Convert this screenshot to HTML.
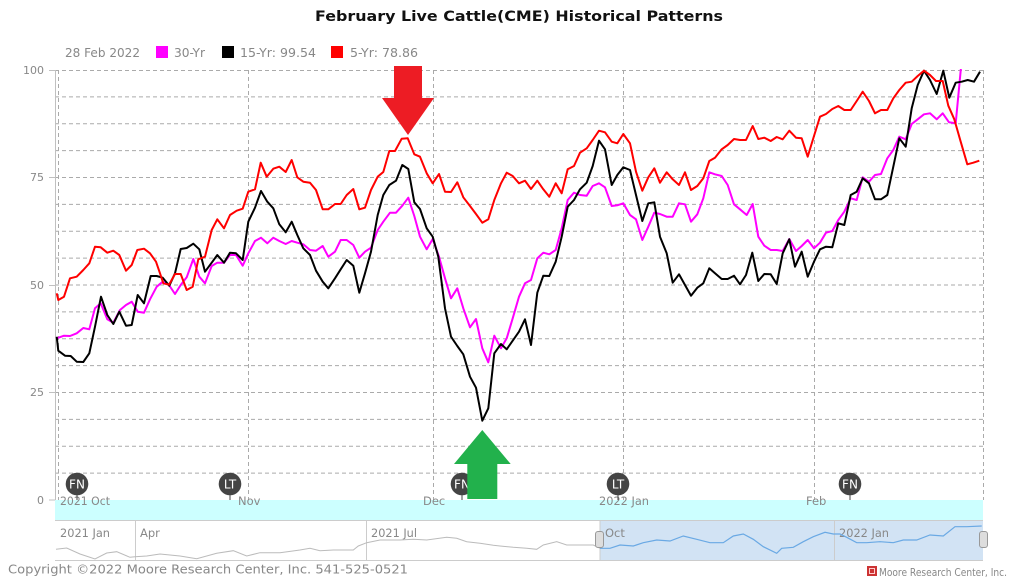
<!DOCTYPE html>
<html><head><meta charset="utf-8"><style>
html,body{margin:0;padding:0;background:#fff;}
svg{display:block;font-family:"DejaVu Sans","Liberation Sans",sans-serif;}
</style></head><body>
<svg width="1009" height="577" viewBox="0 0 1009 577" xmlns="http://www.w3.org/2000/svg">
<defs><clipPath id="pc"><rect x="55" y="69" width="935" height="431"/></clipPath></defs>
<rect width="1009" height="577" fill="#fff"/>
<text x="315" y="21" font-size="14" font-weight="bold" fill="#111" textLength="408" lengthAdjust="spacingAndGlyphs">February Live Cattle(CME) Historical Patterns</text>
<g font-size="12.5" fill="#888">
<text x="65" y="57" textLength="75" lengthAdjust="spacingAndGlyphs">28 Feb 2022</text>
<rect x="156" y="46" width="12" height="12" fill="#ff00ff"/>
<text x="174" y="57" textLength="31" lengthAdjust="spacingAndGlyphs">30-Yr</text>
<rect x="222" y="46" width="12" height="12" fill="#000"/>
<text x="240" y="57" textLength="76" lengthAdjust="spacingAndGlyphs">15-Yr: 99.54</text>
<rect x="331" y="46" width="12" height="12" fill="#ff0000"/>
<text x="350" y="57" textLength="68" lengthAdjust="spacingAndGlyphs">5-Yr: 78.86</text>
</g>
<g stroke="#aaa" stroke-width="1" stroke-dasharray="4,3" fill="none">
<path d="M55 70.5H983M55 96.9H983M55 123.8H983M55 150.6H983M55 177.5H983M55 204.4H983M55 231.3H983M55 258.1H983M55 285H983M55 311.9H983M55 338.8H983M55 365.6H983M55 392.5H983M55 419.4H983M55 446.3H983M55 473.1H983"/>
<path d="M58.5 70V500M248.5 70V500M433.5 70V500M623.5 70V500M814.5 70V500M983.5 70V500"/>
</g>
<path d="M55.5 70V500" stroke="#c0c0c0" stroke-width="1"/>
<path d="M49 70.5H55M49 177.5H55M49 285.5H55M49 392.5H55M49 500H55" stroke="#c0c0c0"/>
<g font-size="11" fill="#888" text-anchor="end">
<text x="44" y="74">100</text><text x="44" y="181">75</text><text x="44" y="289">50</text><text x="44" y="396">25</text><text x="44" y="504">0</text>
</g>
<rect x="55" y="500" width="928" height="20" fill="#ccffff"/>
<g font-size="11.5" fill="#888">
<text x="60" y="505" textLength="50" lengthAdjust="spacingAndGlyphs">2021 Oct</text>
<text x="238" y="505">Nov</text>
<text x="423" y="505">Dec</text>
<text x="599" y="505" textLength="50" lengthAdjust="spacingAndGlyphs">2022 Jan</text>
<text x="806" y="505">Feb</text>
</g>
<g clip-path="url(#pc)" fill="none" stroke-width="2" stroke-linejoin="round">
<polyline stroke="#ff00ff" points="56.7,338.3 64,335.7 70,336 76.7,333.3 83.3,328 89.3,329.3 95,308.3 100.7,303.3 107.3,319.3 113.3,322.7 120,310 126,305 131.7,301.7 137.7,311.7 144,312.7 150,299.3 156.7,286.7 162.7,281.7 169,285 175,294 180.7,285 186.7,277.3 193.3,259 199.3,276.7 205,283.3 211.7,266 217.3,262.7 224,262.7 230,255 236,255 242.7,265.7 248.3,253.3 255,241 261,237.7 267.3,243.3 273.3,237.7 279.3,241 285.7,244 291.7,241 297.3,242.7 303.3,244.3 310,250 316,250.7 322.7,246 328.3,256.7 335,251.7 340.7,240 346.7,240 353.3,245 359.3,257.7 365,251.7 371,247.7 377.7,230 383.3,221.7 390,212.7 396,212.7 402.3,205.7 408.3,197.7 414.3,216 420,236.7 426.7,249.3 432.7,239 439,256.7 445,278.3 451,298.3 457.3,288.3 463.3,308.3 470,327.3 476,319 482.3,348.3 488.3,362.3 494.3,335.7 501,348.3 506.7,338.3 512.7,318.3 519,296.7 525,283.3 531,280 537.3,258.3 543.3,252.7 549.3,254.3 555.7,250 561.7,228.3 567.7,200 574,192.7 580,195 586.7,195.7 592.7,186 599,183.3 605,187.3 611.7,206 617.3,205.3 623.3,203.3 630,215 636,219.3 642.3,240 648.3,226.7 654.3,212.7 660,214 666.7,216.7 672.7,216.7 679,203.3 685,204.3 691,221.7 697.3,214.3 703.3,198.3 709.3,172.3 715,174.3 721.7,176 727.7,185 734,204.3 740,209.3 746.7,215 752.7,204 758.3,236.7 764.3,245.7 770.7,250 776.7,250 782.7,251 789.3,239 796,251 801.7,246 807.7,240 814,248.3 820,242.7 826,232.7 832.3,231 838.3,220 844.3,211.7 850.7,198.3 856.7,200 862.7,177.3 869,181.7 875,175 881,174 887.3,158.3 893.3,150 899.3,136.7 905.7,139.3 911.7,124 917.7,119.3 924,114.3 930,113.3 936.7,119.3 942.7,113.3 949,122.3 955.7,123.3 961.7,60"/>
<polyline stroke="#000" points="56.7,336.7 58.3,350.7 65,355.7 70.7,356 76.7,361.7 83.3,362 89.3,353.3 95,326.7 101,296.7 107.3,315 113.3,324 119.3,311.7 126,325.7 131.7,325 137.7,295 144,303.3 150.7,276 156.7,276 162.7,277.7 169.3,285.7 175,273.3 180.7,249 186.7,248 193.3,243.7 199.3,249.3 205,271.7 211.7,262.7 217.3,255 224,262.7 230,252.7 236,253.3 242.7,260 248.3,221.7 255,207.7 261,191 267.3,201.7 273.3,208.3 279.3,224.3 285.7,232.3 291.7,221.7 297.3,235 303.3,248.3 310,255 316,270.7 322.7,281.7 328.3,288.3 335,278.3 340.7,269.3 346.7,260 353.3,265.7 359.3,292.7 365,273.3 371,251.7 377.7,215 383.3,195 389.3,185 396,180.7 402.3,165 408.3,169 414.3,202.3 420,209 426.7,228.3 432.7,236.7 438.3,256.7 445,308.3 451,336.7 457.3,346 463.3,354.3 470,376.7 476,387.7 482.3,420.7 488.3,408.3 494.3,353.3 501,344 506.7,349.3 512.7,340.7 519,331.7 525,319.3 531,345 537.3,292.7 543.3,275.7 549.3,276 555.7,261.7 561.7,236.7 567.7,206.7 574,200 580,189.3 586.7,182.7 592.7,166 599,140.7 605,149.3 611.7,185 617.3,175 623.3,167.3 630,170 636,195 642.3,221 648.3,203.3 654.3,202.3 660,236.7 666.7,253.3 672.7,282.7 679,274.3 685,285 691,295.7 697.3,287.7 703.3,283.3 709.3,268.3 715,273.3 721.7,279 727.7,279 734,275.7 740,284.3 746,275 752.3,252.7 758.3,281 764.3,274 770.7,274.3 776.7,284 782.7,253.3 789.3,239.3 795,266.7 801.7,251.7 807.7,276.7 814,261.7 820,249.3 826,246.7 832.3,247.3 838.3,223.3 844.3,225 850.7,195 856.7,191.7 862.7,178.3 869,183.3 875,199.3 881,199.3 887.3,195 893.3,166.7 899.3,138.3 905.7,146.7 911.7,108.3 917.7,85 924,70.7 930,80 936.7,94 943.3,70.7 949.3,97.7 955.7,82.7 961.7,81.7 967.7,80 974,81.7 980,71.7"/>
<polyline stroke="#ff0000" points="56.7,293.3 58.3,300 64,296.7 70,278.3 76.7,276.7 83.3,270 89.3,263.3 95,246.7 100.7,247.3 107.3,252.7 113.3,250.7 119.3,255 126,270.7 131.7,265 137.3,250 144,248.7 150,253.3 156,261.7 160,273.3 163.3,283.3 169,284.7 175,274 180.7,274 186.7,290 192.7,286.7 198.3,259.3 205,256.7 211.7,230 217.3,219.3 224,228.3 230,215 236.7,210.7 242.7,208.7 248.3,191.7 255,189.3 260.7,162.7 266.7,176.7 273.3,168.7 279.3,166.7 285.7,172 291.7,160 297.3,177.3 303.3,181.7 310,182.7 316,190 322.7,209.3 328.3,209.3 335,204 340.7,204 346.7,195 353.3,189 359.3,209.3 365,207.7 371,190 377.7,176.7 383.3,172 389.3,151 395,151 401.7,138.7 407.7,138.3 414.3,154.3 420,156.7 426.7,173.3 432.7,183.3 439,174 445,191.7 451,192 457.3,182.3 463.3,197.3 470,206 476,214 482.3,222.7 488.3,219.3 494.3,200 501,183.3 506.7,172.7 512.7,176 519,183.3 525,180.7 531,189 537.3,180.7 543.3,189.3 549.3,196.7 555.7,183.3 561.7,193.3 567.7,169.3 574,166 580,152.7 586.7,148.3 592.7,140 599,130.7 605,132.3 611.7,141.7 617.3,143.3 623.3,134 630,143.3 636,171.7 642.3,190.7 648.3,177.3 654.3,168.3 660,182.7 666.7,172.3 672.7,179.3 679,185 685,172.3 691,190 697.3,186 703.3,178.3 709.3,161 715,157.7 721.7,149.3 727.7,145 734,139 740,140 746,140 752.7,126 758.3,139 764.3,137.7 770.7,141 776.7,137 782.7,139.3 789.3,130.7 796,137.7 801.7,138.3 807.7,156.7 814,136 820,116.7 826,114 832.3,109 838.3,106 844.3,110 850.7,110 856.7,101 862.7,91.7 869,101 875,113.3 881,110 887.3,110 893.3,98.3 899.3,90 905.7,82.7 911.7,81.7 917.7,76 924,70.7 930,75 936,81 942.7,81 948.3,105.7 954.3,119.3 960.7,141.7 967.3,164.3 973.3,162.7 979.3,160.7"/>
</g>
<g font-size="12" fill="#fff" text-anchor="middle">
<path d="M77 495V500M230 495V500M462 495V500M618 495V500M850 495V500" stroke="#444"/>
<circle cx="77" cy="484" r="11.3" fill="#444"/><text x="77" y="488.5">FN</text>
<circle cx="230" cy="484" r="11.3" fill="#444"/><text x="230" y="488.5">LT</text>
<circle cx="462" cy="484" r="11.3" fill="#444"/><text x="462" y="488.5">FN</text>
<circle cx="618" cy="484" r="11.3" fill="#444"/><text x="618" y="488.5">LT</text>
<circle cx="850" cy="484" r="11.3" fill="#444"/><text x="850" y="488.5">FN</text>
</g>
<polygon points="394,66 422,66 422,98 434,98 408,135 382,98 394,98" fill="#ed1c24"/>
<polygon points="482.3,430 510.7,464 497.3,464 497.3,499 467.3,499 467.3,464 454,464" fill="#22b14c"/>
<rect x="600" y="520" width="383" height="40" fill="#d2e3f4"/>
<path d="M55 520.5H983M55 560.5H983" stroke="#ccc"/>
<path d="M135.5 520V560M366.5 520V560M834.5 520V560M600 520V560" stroke="#ccc"/>
<g font-size="11.5" fill="#888">
<text x="60" y="537" textLength="50" lengthAdjust="spacingAndGlyphs">2021 Jan</text>
<text x="140" y="537">Apr</text>
<text x="371" y="537" textLength="46" lengthAdjust="spacingAndGlyphs">2021 Jul</text>
<text x="605" y="537">Oct</text>
<text x="839" y="537" textLength="50" lengthAdjust="spacingAndGlyphs">2022 Jan</text>
</g>
<polyline fill="none" stroke="#bbb" stroke-width="1" points="56,549.3 66.7,548 80,554 95,559 106.7,553 116.7,551.7 130,557.3 135,556.7 146.7,556 160,554 180,556 196.7,558.7 216.7,553.3 233.3,550.7 246.7,556 260,552.7 280,552.7 300,550 310,548.3 320,550.7 333.3,550 353.3,550 358.3,546 366.7,542.7 380,540 400,540 413.3,539.3 426.7,540 446.7,537.3 456.7,538.3 466.7,541.7 480,543.3 493.3,545.3 500,546 513.3,547.3 526.7,548.3 536.7,549.3 543.3,545 556.7,541.7 566.7,545 580,545 593.3,545 600,548.3"/>
<polyline fill="none" stroke="#6aa9e4" stroke-width="1.2" points="600,548.3 610,548.3 620,545 633.3,546 643.3,542.7 656.7,540 670,541 683.3,536 696.7,539.3 710,542.7 723.3,542.7 733.3,536 743.3,534 753.3,539.3 763.3,546.7 776.7,553.3 781.7,548.3 793.3,547.3 803.3,541.7 813.3,536.7 825,532.3 833.3,534 840,534 846.7,537.3 856.7,542.7 866.7,542.7 880,541.7 893.3,542.7 903.3,540 916.7,540 930,535 943.3,536 955,526.7 966.7,526.7 981.7,526"/>
<rect x="595.5" y="531.5" width="8" height="16" rx="2.5" fill="#ddd" stroke="#999"/>
<rect x="979.5" y="531.5" width="8" height="16" rx="2.5" fill="#ddd" stroke="#999"/>
<text x="8" y="573.5" font-size="12" fill="#888" textLength="400" lengthAdjust="spacingAndGlyphs">Copyright ©2022 Moore Research Center, Inc. 541-525-0521</text>
<rect x="867" y="566" width="10" height="10" fill="#c33"/>
<rect x="869.5" y="568.5" width="5" height="5" fill="none" stroke="#fcc" stroke-width="1"/>
<text x="879" y="576" font-size="10.5" fill="#888" textLength="128" lengthAdjust="spacingAndGlyphs">Moore Research Center, Inc.</text>
</svg>
</body></html>
